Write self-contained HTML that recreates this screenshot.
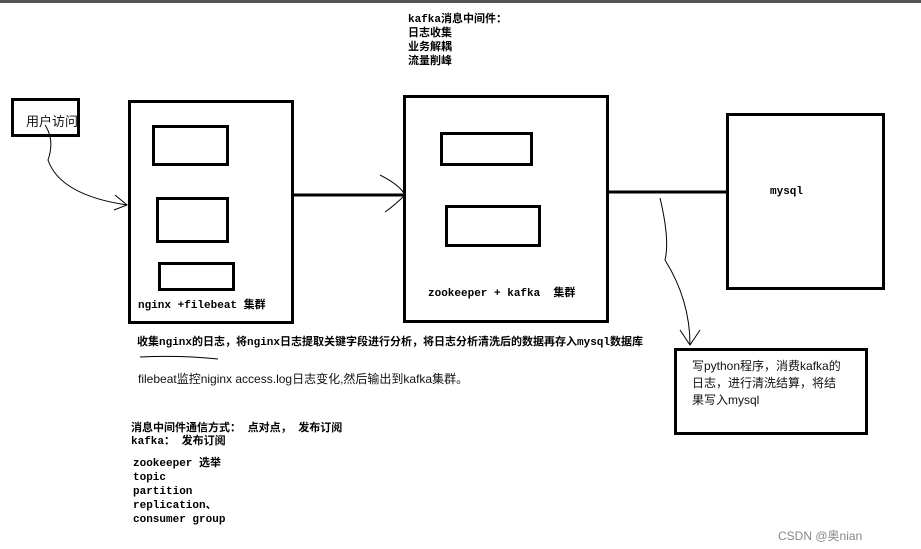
<!DOCTYPE html>
<html><head><meta charset="utf-8"><style>
body{margin:0;width:921px;height:549px;background:#fff;position:relative;overflow:hidden;font-family:"Liberation Mono","Noto Sans CJK SC",monospace;}
.b{position:absolute;border:3px solid #000;box-sizing:border-box;}
.t{position:absolute;font-size:11px;font-weight:bold;line-height:13px;color:#000;white-space:nowrap;}
.n{position:absolute;font-family:"Liberation Sans","Noto Sans CJK SC",sans-serif;font-size:12px;color:#111;white-space:nowrap;}
</style></head><body>
<div style="position:absolute;left:0;top:0;width:921px;height:3px;background:#555"></div>
<div class="b" style="left:11px;top:98px;width:69px;height:39px"></div>
<div class="n" style="left:26px;top:111px;font-size:13px">用户访问</div>
<div class="b" style="left:128px;top:100px;width:166px;height:224px"></div>
<div class="b" style="left:152px;top:125px;width:77px;height:41px"></div>
<div class="b" style="left:156px;top:197px;width:73px;height:46px"></div>
<div class="b" style="left:158px;top:262px;width:77px;height:29px"></div>
<div class="t" style="left:138px;top:300px">nginx +filebeat 集群</div>
<div class="b" style="left:403px;top:95px;width:206px;height:228px"></div>
<div class="b" style="left:440px;top:132px;width:93px;height:34px"></div>
<div class="b" style="left:445px;top:205px;width:96px;height:42px"></div>
<div class="t" style="left:428px;top:288px">zookeeper + kafka &nbsp;集群</div>
<div class="b" style="left:726px;top:113px;width:159px;height:177px"></div>
<div class="t" style="left:770px;top:186px">mysql</div>
<div class="b" style="left:674px;top:348px;width:194px;height:87px"></div>
<div class="n" style="left:692px;top:358px;line-height:17px;white-space:normal;width:150px">写python程序，消费kafka的日志，进行清洗结算，将结果写入mysql</div>
<div class="t" style="left:408px;top:13px;line-height:14px">kafka消息中间件：<br>日志收集<br>业务解耦<br>流量削峰</div>
<div class="t" style="left:137px;top:337px">收集nginx的日志，将nginx日志提取关键字段进行分析，将日志分析清洗后的数据再存入mysql数据库</div>
<div class="n" style="left:138px;top:370px">filebeat监控niginx access.log日志变化,然后输出到kafka集群。</div>
<div class="t" style="left:131px;top:423px">消息中间件通信方式： 点对点， 发布订阅<br>kafka： 发布订阅</div>
<div class="t" style="left:133px;top:457px;line-height:14px">zookeeper 选举<br>topic<br>partition<br>replication、<br>consumer group</div>
<div class="n" style="left:778px;top:527px;color:#888;font-size:12px">CSDN @奥nian</div>
<svg width="921" height="549" style="position:absolute;left:0;top:0">
<g fill="none" stroke="#000">
<line x1="294" y1="195" x2="403" y2="195" stroke-width="3"/>
<line x1="609" y1="192" x2="726" y2="192" stroke-width="3"/>
<path d="M380 175 Q400 185 405 195 Q395 205 385 212" stroke-width="1"/>
<path d="M45 125 Q55 140 48 160 Q60 195 127 205" stroke-width="1"/>
<path d="M115 195 L127 205 L114 210" stroke-width="1"/>
<path d="M660 198 Q670 240 665 260 Q690 300 690 345" stroke-width="1"/>
<path d="M680 330 L690 345 L700 330" stroke-width="1"/>
<path d="M140 357 Q180 355 218 359" stroke-width="1"/>
</g></svg>
</body></html>
